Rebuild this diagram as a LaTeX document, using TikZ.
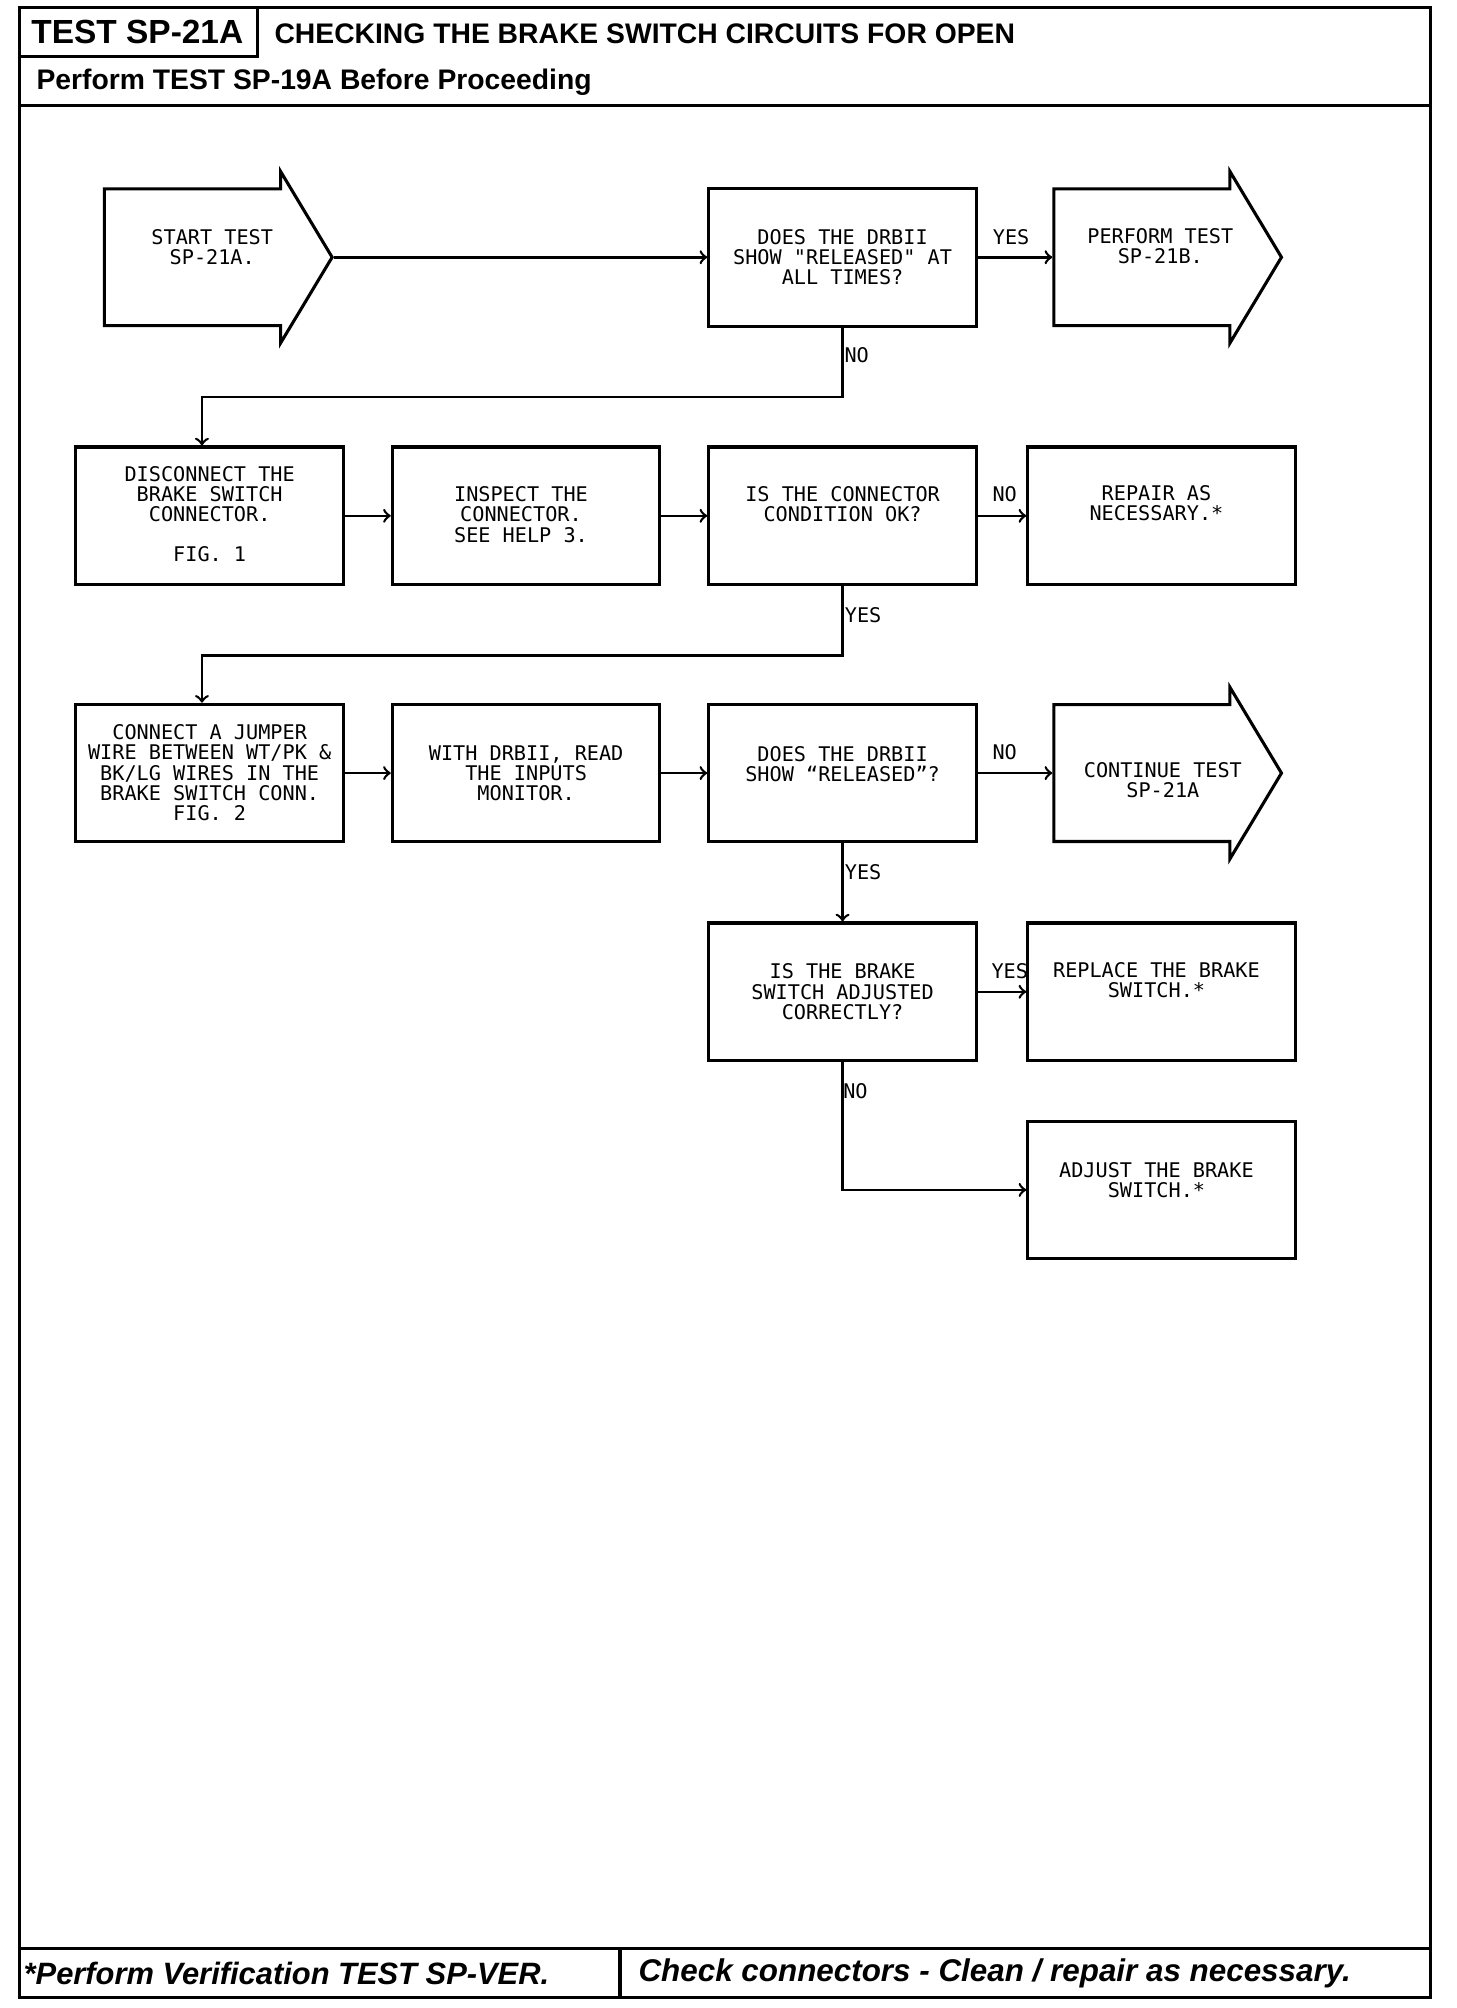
\documentclass[tikz,border=0pt]{standalone}
\usepackage{fontspec}
\setmainfont{Liberation Sans}
\newfontfamily\plotfont{DejaVu Sans Mono}
\usetikzlibrary{shapes.arrows}

\begin{document}
\begin{tikzpicture}[x=0.5pt,y=-0.5pt,
		stepbox/.style={draw,line width=1.2pt,minimum width=104pt,minimum height=53.5pt,inner sep=0pt},
		bigarrow/.style={draw,line width=1.2pt,single arrow,single arrow tip angle=118,single arrow head extend=6.75pt,inner xsep=0pt,inner ysep=26pt,minimum height=88.5pt,anchor=tail},
		steptext/.style={font=\plotfont\fontsize{7.85}{7.85}\selectfont,align=center,anchor=north,inner sep=0pt},
		lbl/.style={font=\plotfont\fontsize{7.85}{7.85}\selectfont,inner sep=0pt},
		conn/.style={->,line width=1pt}]
			\useasboundingbox (0,0) rectangle (1132,1561);
			% Vẽ khung
			\draw[line width=1.2pt] (15,6) rectangle (1112,1553);
			\draw[line width=1.2pt] (15,44) -- (200,44) -- (200,6);
			\draw[line width=1.2pt] (15,82) -- (1112,82);
			\draw[line width=1.2pt] (15,1515) -- (1112,1515);
			\draw[line width=1.2pt] (482,1515) -- (482,1553);
			\node[anchor=west,inner sep=0pt,font=\fontsize{13}{13}\selectfont\bfseries] (testno) at (24,25) {TEST SP-21A};
			\node[anchor=west,inner sep=0pt,font=\fontsize{11}{11}\selectfont\bfseries] (title) at (213,26) {CHECKING THE BRAKE SWITCH CIRCUITS FOR OPEN};
			\node[anchor=west,inner sep=0pt,font=\fontsize{11}{11}\selectfont\bfseries] (before) at (28,64) {Perform TEST SP-19A Before Proceeding};
			\node[anchor=west,inner sep=0pt,font=\fontsize{12}{12}\selectfont\bfseries\itshape] (verif) at (18,1534) {*Perform Verification TEST SP-VER.};
			\node[anchor=west,inner sep=0pt,font=\fontsize{12.2}{12.2}\selectfont\bfseries\itshape] (check) at (496,1534) {Check connectors - Clean / repair as necessary.};
			% Vẽ các hộp
			\foreach \n/\x/\y in {q1/655/200,disc/163/401,insp/409/401,q2/655/401,repair/903/401,jumper/163/601,read/409/601,q3/655/601,q4/655/771,replace/903/771,adjust/903/925}
			\node[stepbox] (\n) at (\x,\y) {};
			\node[bigarrow] (start) at (80,200) {};
			\node[bigarrow] (perform) at (818,200) {};
			\node[bigarrow] (cont) at (818,601) {};
			% Chữ trong hộp
			\node[steptext] (startt) at (165,178) {START TEST\\SP-21A.};
			\node[steptext] (performt) at (902,177) {PERFORM TEST\\SP-21B.};
			\node[steptext] (q1t) at (655,178) {DOES THE DRBII\\SHOW "RELEASED" AT\\ALL TIMES?};
			\node[steptext] (disct) at (163,362) {DISCONNECT THE\\BRAKE SWITCH\\CONNECTOR.\\[7.85pt]FIG. 1};
			\node[steptext] (inspt) at (405,378) {INSPECT THE\\CONNECTOR.\\SEE HELP 3.};
			\node[steptext] (q2t) at (655,378) {IS THE CONNECTOR\\CONDITION OK?};
			\node[steptext] (repairt) at (899,377) {REPAIR AS\\NECESSARY.*};
			\node[steptext] (jumpert) at (163,563) {CONNECT A JUMPER\\WIRE BETWEEN WT/PK \&\\BK/LG WIRES IN THE\\BRAKE SWITCH CONN.\\FIG. 2};
			\node[steptext] (readt) at (409,579) {WITH DRBII, READ\\THE INPUTS\\MONITOR.};
			\node[steptext] (q3t) at (655,580) {DOES THE DRBII\\SHOW “RELEASED”?};
			\node[steptext] (contt) at (904,592) {CONTINUE TEST\\SP-21A};
			\node[steptext] (q4t) at (655,749) {IS THE BRAKE\\SWITCH ADJUSTED\\CORRECTLY?};
			\node[steptext] (replacet) at (899,748) {REPLACE THE BRAKE\\SWITCH.*};
			\node[steptext] (adjustt) at (899,903) {ADJUST THE BRAKE\\SWITCH.*};
			\foreach \n/\x/\y/\t in {yes1/786/184/YES,no1/666/276/NO,no2/781/384/NO,yes2/671/478/YES,no3/781/585/NO,yes3/671/678/YES,yes4/785/755/YES,no4/665/848/NO}
			\node[lbl] (\n) at (\x,\y) {\t};
			% Vẽ mũi tên
			\draw[conn] (start.tip) -- (q1.west);
			\draw[conn] (q1.east) -- (perform.tail);
			\draw[conn] (q1.south) -- ++(0,54) -| ([xshift=-3pt]disc.north);
			\draw[conn] (disc.east) -- (insp.west);
			\draw[conn] (insp.east) -- (q2.west);
			\draw[conn] (q2.east) -- (repair.west);
			\draw[conn] (q2.south) -- ++(0,54) -| ([xshift=-3pt]jumper.north);
			\draw[conn] (jumper.east) -- (read.west);
			\draw[conn] (read.east) -- (q3.west);
			\draw[conn] (q3.east) -- (cont.tail);
			\draw[conn] (q3.south) -- (q4.north);
			\draw[conn] (q4.east) -- (replace.west);
			\draw[conn] (q4.south) |- (adjust.west);
		\end{tikzpicture}
\end{document}
